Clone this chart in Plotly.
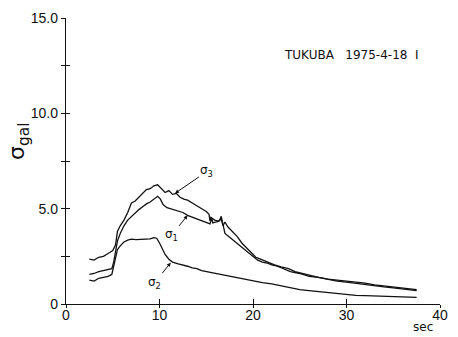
import plotly.graph_objects as go

# Time (sec) and RMS acceleration sigma (gal) for the three components
t_s3 = [2.5, 3.0, 3.5, 4.0, 4.5, 5.0, 5.3, 5.5, 5.8, 6.2, 6.6, 7.0, 7.4, 7.8, 8.2, 8.6,
        9.0, 9.4, 9.8, 10.2, 10.6, 11.0, 11.4, 11.8, 12.2, 12.6, 13.0, 13.5, 14.0, 14.5,
        15.0, 15.3, 15.4, 15.5, 15.9, 16.3, 16.6, 16.8, 17.0, 17.3, 17.8, 18.3, 18.8,
        19.3, 19.8, 20.3, 20.8, 21.5, 22.3, 23.0, 23.8, 24.5, 25.3, 26.0, 27.0, 28.0,
        29.0, 30.0, 31.0, 32.0, 33.0, 34.0, 35.0, 36.0, 37.0, 37.5]
v_s3 = [2.35, 2.3, 2.45, 2.5, 2.65, 2.8, 3.1, 3.8, 4.1, 4.4, 4.8, 5.3, 5.4, 5.6, 5.85, 6.0,
        6.05, 6.2, 6.25, 6.05, 5.85, 5.95, 5.75, 5.8, 5.6, 5.5, 5.45, 5.3, 5.15, 5.0,
        4.85, 4.7, 4.35, 4.55, 4.4, 4.35, 4.45, 4.1, 4.3, 4.05, 3.8, 3.55, 3.2,
        2.95, 2.65, 2.45, 2.35, 2.2, 2.05, 1.95, 1.85, 1.7, 1.6, 1.5, 1.4, 1.3,
        1.25, 1.2, 1.15, 1.1, 1.0, 0.95, 0.9, 0.85, 0.8, 0.75]

t_s1 = [2.5, 3.0, 3.5, 4.0, 4.5, 4.9, 5.1, 5.3, 5.5, 5.8, 6.2, 6.6, 7.0, 7.4, 7.8, 8.2,
        8.6, 9.0, 9.4, 9.8, 10.1, 10.4, 10.8, 11.2, 11.6, 12.0, 12.5, 13.0, 13.5, 14.0,
        14.5, 15.0, 15.4, 15.6, 15.7, 16.0, 16.4, 16.6, 16.8, 17.0, 17.5, 18.0, 18.5,
        19.0, 19.5, 20.0, 20.5, 21.0, 21.5, 22.0, 22.5, 23.0, 23.5, 24.0, 25.0, 26.0,
        27.0, 28.0, 29.0, 30.0, 31.0, 32.0, 33.0, 34.0, 35.0, 36.0, 37.0, 37.5]
v_s1 = [1.55, 1.6, 1.7, 1.75, 1.8, 1.85, 2.2, 2.8, 3.3, 3.7, 4.1, 4.4, 4.6, 4.75, 4.95, 5.1,
        5.25, 5.35, 5.5, 5.65, 5.5, 5.2, 5.05, 5.0, 4.95, 4.88, 4.8, 4.65, 4.55, 4.45,
        4.35, 4.28, 4.2, 4.5, 4.25, 4.3, 4.35, 4.6, 4.1, 3.7, 3.5, 3.3, 3.1,
        2.85, 2.65, 2.45, 2.3, 2.2, 2.15, 2.05, 2.0, 1.9, 1.8, 1.7, 1.6, 1.45,
        1.4, 1.28, 1.2, 1.15, 1.08, 1.03, 0.95, 0.9, 0.85, 0.78, 0.72, 0.7]

t_s2 = [2.5, 3.0, 3.5, 4.0, 4.5, 4.9, 5.1, 5.3, 5.5, 5.8, 6.2, 6.6, 7.0, 7.5, 8.0, 8.5,
        9.0, 9.4, 9.7, 10.0, 10.3, 10.6, 11.0, 11.4, 12.0, 12.5, 13.0, 13.5, 14.0, 14.5,
        15.0, 16.0, 17.0, 18.0, 19.0, 20.0, 21.0, 22.0, 23.0, 24.0, 25.0, 26.0, 27.0,
        28.0, 29.0, 30.0, 31.0, 32.0, 33.0, 34.0, 35.0, 36.0, 37.0, 37.5]
v_s2 = [1.25, 1.2, 1.35, 1.4, 1.45, 1.55, 2.0, 2.5, 2.85, 3.05, 3.25, 3.35, 3.4, 3.38, 3.4, 3.42,
        3.42, 3.48, 3.45, 3.2, 2.9, 2.6, 2.35, 2.2, 2.1, 2.05, 1.98, 1.9, 1.85, 1.75,
        1.7, 1.6, 1.5, 1.4, 1.3, 1.22, 1.12, 1.05, 0.95, 0.85, 0.75, 0.7, 0.65,
        0.6, 0.52, 0.48, 0.45, 0.44, 0.42, 0.4, 0.38, 0.37, 0.36, 0.35]

x_ticks = [0, 10, 20, 30, 40]
x_labels = ["0", "10", "20", "30", "40"]
y_ticks = [0, 2.5, 5, 7.5, 10, 12.5, 15]
y_labels = ["0", "", "5.0", "", "10.0", "", "15.0"]

INK = "#111111"
FONT = "Liberation Sans Narrow, Liberation Sans, sans-serif"
TFONT = "DejaVu Sans"

fig = go.Figure()
for tx, vy in [(t_s3, v_s3), (t_s1, v_s1), (t_s2, v_s2)]:
    fig.add_trace(go.Scatter(x=tx, y=vy, mode="lines",
                             line=dict(color=INK, width=1.3), showlegend=False))

tick_style = dict(showgrid=False, zeroline=False, linecolor=INK, linewidth=1.3,
                  tickcolor=INK, tickwidth=1.2)

fig.update_layout(
    width=458, height=337,
    margin=dict(l=66, r=10, t=14, b=33),
    paper_bgcolor="white", plot_bgcolor="white",
    xaxis=dict(range=[0, 40], tickmode="array", tickvals=x_ticks, ticktext=x_labels,
               showline=True, ticks="outside", ticklen=3, ticklabelstandoff=-5,
               tickfont=dict(family=FONT, size=14, color=INK), **tick_style),
    yaxis=dict(range=[0, 15], tickmode="array", tickvals=y_ticks, ticktext=y_labels,
               showline=True, ticks="outside", ticklen=4, ticklabelstandoff=0,
               tickfont=dict(family=FONT, size=14, color=INK), **tick_style),
    # overlaid axes supply the inner half of each crossing tick
    xaxis2=dict(range=[0, 40], overlaying="x", anchor="y", side="bottom",
                tickmode="array", tickvals=x_ticks[1:], showticklabels=False,
                ticks="inside", ticklen=5, showline=False, **tick_style),
    yaxis2=dict(range=[0, 15], overlaying="y", anchor="x", side="left",
                tickmode="array", tickvals=y_ticks[1:], showticklabels=False,
                ticks="inside", ticklen=4, showline=False, **tick_style),
)
# invisible trace so the overlaid axes are drawn
fig.add_trace(go.Scatter(x=[0], y=[0], xaxis="x2", yaxis="y2", mode="markers",
                         marker=dict(opacity=0), showlegend=False, hoverinfo="skip"))

fig.add_annotation(x=0.578, y=0.872, xref="paper", yref="paper", xanchor="left",
                   yanchor="middle", showarrow=False,
                   text="TUKUBA\u00a0\u00a0\u00a01975-4-18\u00a0\u00a0I",
                   font=dict(family=TFONT, size=12, color=INK))
fig.add_annotation(x=0.955, y=-0.082, xref="paper", yref="paper", xanchor="center",
                   yanchor="middle", showarrow=False, text="sec",
                   font=dict(family=TFONT, size=12, color=INK))
fig.add_annotation(x=-0.17, y=0.57, xref="paper", yref="paper", textangle=-90,
                   showarrow=False, text="σ<sub>gal</sub>",
                   font=dict(family=TFONT, size=22, color=INK))

# component labels with arrows pointing at the curves
for text, tx, vy, ax, ay in [("σ<sub>3</sub>", 11.65, 5.8, 32, -22),
                             ("σ<sub>1</sub>", 13.0, 4.65, -16, 20),
                             ("σ<sub>2</sub>", 11.2, 2.17, -16, 20)]:
    fig.add_annotation(x=tx, y=vy, ax=ax, ay=ay, text=text, showarrow=True,
                       arrowhead=2, arrowsize=0.8, arrowwidth=1, arrowcolor=INK,
                       font=dict(family=TFONT, size=12, color=INK))

fig.write_html("out.html")
